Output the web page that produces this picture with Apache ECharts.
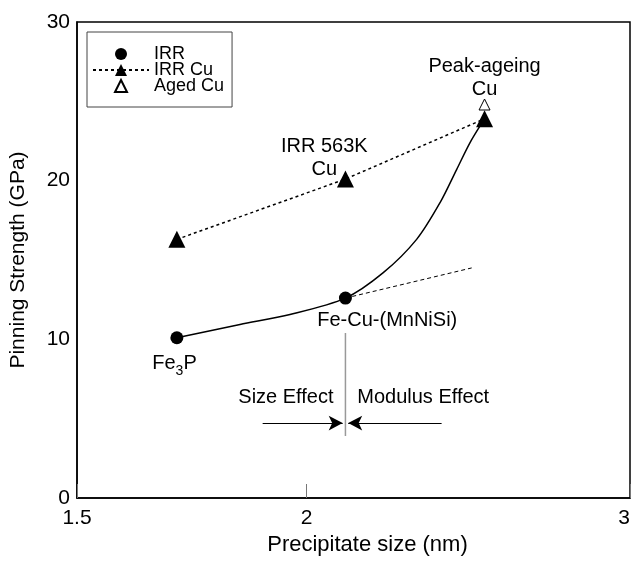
<!DOCTYPE html>
<html>
<head>
<meta charset="utf-8">
<script src="https://cdn.jsdelivr.net/npm/echarts@6/dist/echarts.min.js"></script>
<style>html,body{margin:0;padding:0;background:#fff}#c{width:633px;height:561px}</style>
</head>
<body>
<div id="c"></div>
<script>
// ---- data ----
const xTicks = [1.5, 2, 3];
const yTicks = [0, 10, 20, 30];
const irrX = [1.7, 2.1];
const irrY = [10.1, 12.6];
const irrCuX = [1.7, 2.1, 2.5];
const irrCuY = [16.3, 20.1, 23.9];
const agedCuX = [2.5];
const agedCuY = [24.8];
const curveX = [1.7, 1.84, 1.959, 2.1, 2.202, 2.296, 2.364, 2.414, 2.455, 2.5];
const curveY = [10.1, 10.94, 11.57, 12.6, 14.2, 16.3, 18.6, 20.7, 22.4, 23.9];
const tangentX = [2.1, 2.46];
const tangentY = [12.6, 14.5];
const dividerX = 2.1;
const dividerY = [10.4, 3.9];
const arrowY = 4.72;
const arrowLeftFrom = 1.893;
const arrowRightFrom = 2.369;
const annotations = [
  {x: 1.695, y: 8.5, text: '{n|Fe}{s|3}{n|P}'},
  {x: 2.213, y: 11.2, text: 'Fe-Cu-(MnNiSi)'},
  {x: 2.045, y: 21.4, text: 'IRR 563K\nCu'},
  {x: 2.5, y: 26.5, text: 'Peak-ageing\nCu'},
  {x: 1.949, y: 6.35, text: 'Size Effect'},
  {x: 2.315, y: 6.35, text: 'Modulus Effect'}
];

const L = v => Math.log10(v);
const pts = (xs, ys) => xs.map((x, i) => [L(x), ys[i]]);
const FONT = '"Liberation Sans", Arial, sans-serif';

const chart = echarts.init(document.getElementById('c'), null, {renderer: 'canvas'});
chart.setOption({
  animation: false,
  textStyle: {fontFamily: FONT},
  grid: {left: 77, right: 3, top: 22, bottom: 62, show: true, borderColor: '#000', borderWidth: 1.5},
  xAxis: {
    type: 'value', min: L(1.5), max: L(3),
    name: 'Precipitate size (nm)', nameLocation: 'middle', nameGap: 36,
    nameTextStyle: {fontSize: 22, color: '#000', fontFamily: FONT, padding: [0, 0, 0, 28]},
    axisLine: {lineStyle: {color: '#000', width: 1.5}},
    splitLine: {show: false},
    axisTick: {show: true, inside: true, length: 14, customValues: xTicks.map(L), lineStyle: {color: '#777', width: 1}},
    axisLabel: {customValues: xTicks.map(L), formatter: v => String(Math.round(Math.pow(10, v) * 10) / 10),
      fontSize: 21, color: '#000', margin: 10, fontFamily: FONT, alignMaxLabel: 'right'}
  },
  yAxis: {
    type: 'value', min: 0, max: 30, interval: 10,
    name: 'Pinning Strength (GPa)', nameLocation: 'middle', nameGap: 48, nameRotate: 90,
    nameTextStyle: {fontSize: 21, color: '#000', fontFamily: FONT},
    axisLine: {show: true, lineStyle: {color: '#000', width: 1.5}},
    splitLine: {show: false},
    axisTick: {show: false},
    axisLabel: {customValues: yTicks, fontSize: 21, color: '#000', margin: 7, fontFamily: FONT}
  },
  legend: {
    orient: 'vertical', left: 87, top: 32,
    data: ['IRR', 'IRR Cu', 'Aged Cu'],
    itemWidth: 56, itemHeight: 15, itemGap: -2,
    padding: [13, 8, 12, 5],
    borderColor: '#444', borderWidth: 1, backgroundColor: '#fff',
    textStyle: {fontSize: 18, color: '#000', fontFamily: FONT}
  },
  series: [
    {
      name: 'curve', type: 'line', data: pts(curveX, curveY), smooth: 0.3,
      showSymbol: false, symbol: 'none', lineStyle: {color: '#000', width: 1.5}, z: 2, silent: true
    },
    {
      name: 'tangent', type: 'line', data: pts(tangentX, tangentY),
      showSymbol: false, symbol: 'none', lineStyle: {color: '#000', width: 1, type: [4, 3]}, z: 2, silent: true
    },
    {
      name: 'IRR', type: 'line', data: pts(irrX, irrY), symbol: 'circle', symbolSize: 13,
      showSymbol: true, itemStyle: {color: '#000', opacity: 1}, lineStyle: {width: 0, opacity: 0}, z: 4
    },
    {
      name: 'IRR Cu', type: 'line', data: pts(irrCuX, irrCuY), symbol: 'triangle', symbolSize: 17,
      showSymbol: true, itemStyle: {color: '#000', opacity: 1}, lineStyle: {color: '#000', width: 1.5, type: [3, 3]}, z: 4
    },
    {
      name: 'Aged Cu', type: 'line', data: pts(agedCuX, agedCuY), symbol: 'triangle', symbolSize: 11,
      showSymbol: true, itemStyle: {color: '#fff', borderColor: '#000', borderWidth: 1, opacity: 1},
      lineStyle: {width: 0, opacity: 0}, z: 5
    },
    {
      name: 'divider', type: 'line', data: dividerY.map(y => [L(dividerX), y]),
      symbol: 'none', lineStyle: {color: '#999', width: 1.5}, silent: true,
      markLine: {
        silent: true, symbol: ['none', 'arrow'], symbolSize: [11, 14], label: {show: false},
        lineStyle: {color: '#000', width: 1, type: 'solid'},
        data: [
          [{coord: [L(arrowLeftFrom), arrowY]}, {coord: [L(dividerX) - 0.0015, arrowY]}],
          [{coord: [L(arrowRightFrom), arrowY]}, {coord: [L(dividerX) + 0.0015, arrowY]}]
        ]
      }
    },
    {
      name: 'notes', type: 'scatter', symbolSize: 0, silent: true, z: 6,
      itemStyle: {opacity: 1},
      data: annotations.map(a => ({value: [L(a.x), a.y], label: {formatter: a.text}})),
      label: {
        show: true, position: 'inside', color: '#000', fontSize: 20, lineHeight: 23, fontFamily: FONT,
        rich: {
          n: {fontSize: 20, color: '#000', fontFamily: FONT},
          s: {fontSize: 14, color: '#000', fontFamily: FONT, padding: [16, 0, 0, 0]}
        }
      }
    }
  ]
});
</script>
</body>
</html>
